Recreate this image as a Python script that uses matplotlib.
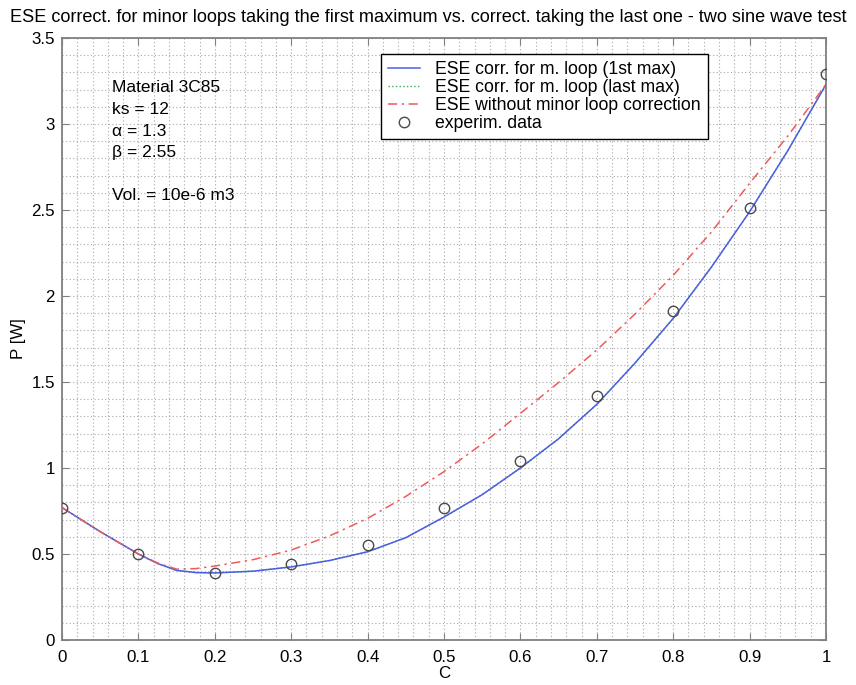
import matplotlib
matplotlib.use("Agg")
import matplotlib.pyplot as plt
import numpy as np

plt.rcParams['font.family'] = ['Liberation Sans', 'DejaVu Sans']

# ---- data ----
c_curve = [0.0, 0.05, 0.1, 0.125, 0.15, 0.175, 0.2, 0.25, 0.3, 0.35, 0.4, 0.45, 0.5,
           0.55, 0.6, 0.65, 0.7, 0.75, 0.8, 0.85, 0.9, 0.95, 1.0]
p_first_max = [0.77, 0.63, 0.50, 0.445, 0.405, 0.392, 0.39, 0.40, 0.425, 0.462, 0.513, 0.595, 0.715,
               0.845, 1.00, 1.17, 1.37, 1.61, 1.87, 2.168, 2.49, 2.845, 3.23]
p_last_max = [0.77, 0.63, 0.50, 0.445, 0.405, 0.392, 0.39, 0.40, 0.425, 0.462, 0.513, 0.595, 0.715,
              0.845, 1.00, 1.17, 1.37, 1.61, 1.87, 2.168, 2.49, 2.845, 3.23]
p_no_corr = [0.77, 0.63, 0.50, 0.448, 0.412, 0.415, 0.43, 0.467, 0.523, 0.605, 0.707, 0.835, 0.979,
             1.14, 1.318, 1.497, 1.686, 1.895, 2.12, 2.372, 2.655, 2.93, 3.23]
c_exp = [0.0, 0.1, 0.2, 0.3, 0.4, 0.5, 0.6, 0.7, 0.8, 0.9, 1.0]
p_exp = [0.77, 0.50, 0.39, 0.44, 0.55, 0.77, 1.04, 1.42, 1.91, 2.51, 3.29]

legend_labels = ["ESE corr. for m. loop (1st max)",
                 "ESE corr. for m. loop (last max)",
                 "ESE without minor loop correction",
                 "experim. data"]
title = ("ESE correct. for minor loops taking the first maximum vs. "
         "correct. taking the last one - two sine wave test")
info_lines = ["Material 3C85", "ks = 12", "α = 1.3", "β = 2.55", "", "Vol. = 10e-6 m3"]
xtick_labels = ['0', '0.1', '0.2', '0.3', '0.4', '0.5', '0.6', '0.7', '0.8', '0.9', '1']
ytick_labels = ['0', '0.5', '1', '1.5', '2', '2.5', '3', '3.5']

fig = plt.figure(figsize=(8.56, 6.85), dpi=100)
ax = fig.add_axes([62/856, 45/685, 764/856, 602/685])

ax.plot(c_curve, p_last_max, color='#3cb043', linestyle=':', linewidth=1.0, label=legend_labels[1], zorder=3)
ax.plot(c_curve, p_first_max, color='#4b5ee6', linestyle='-', linewidth=1.1, label=legend_labels[0], zorder=4)
ax.plot(c_curve, p_no_corr, color='#f05a5a', linestyle=(0, (6, 3, 1.5, 3)), linewidth=1.1, label=legend_labels[2], zorder=4)
ax.plot(c_exp, p_exp, linestyle='none', marker='o', markersize=7.5, markerfacecolor='none',
        markeredgecolor='#4a4a4a', markeredgewidth=1.0, label=legend_labels[3], zorder=5)

ax.set_xlim(0, 1)
ax.set_ylim(0, 3.5)
ax.set_xticks(np.linspace(0, 1, len(xtick_labels)))
ax.set_xticklabels(xtick_labels)
ax.set_yticks(np.linspace(0, 3.5, len(ytick_labels)))
ax.set_yticklabels(ytick_labels)
ax.set_xticks(np.arange(0, 1.001, 0.02), minor=True)
ax.set_yticks(np.arange(0, 3.501, 0.1), minor=True)
ax.grid(which='both', color='#a8a8a8', linestyle=(0, (1, 2.2)), linewidth=0.8)
ax.tick_params(which='major', direction='in', length=5, top=True, right=True,
               labelsize=12.2, color='#808080')
ax.tick_params(axis='x', which='major', pad=7)
ax.tick_params(axis='y', which='major', pad=5)
ax.tick_params(which='minor', length=0)
for s in ax.spines.values():
    s.set_color('#808080')
    s.set_linewidth(1.3)

ax.set_xlabel('C', fontsize=12.2, labelpad=1)
ax.set_ylabel('P [W]', fontsize=12.2, labelpad=4)
fig.text(0.5, 1 - 17/685, title, ha='center', va='center', fontsize=13.1)

y0 = 88
for i, line in enumerate(info_lines):
    fig.text(112/856, 1 - (y0 + i*21.6)/685, line, ha='left', va='center', fontsize=12.5)

handles, labels = ax.get_legend_handles_labels()
order = [1, 0, 2, 3]
leg = ax.legend([handles[i] for i in order], [labels[i] for i in order],
                loc='upper left', bbox_to_anchor=(0.418, 0.973), borderaxespad=0,
                fancybox=False, edgecolor='black', framealpha=1, fontsize=12.7,
                handlelength=1.8, handletextpad=0.85, labelspacing=0.05,
                borderpad=0.4)
leg.get_frame().set_linewidth(1.0)

fig.savefig('out.png', dpi=100)
